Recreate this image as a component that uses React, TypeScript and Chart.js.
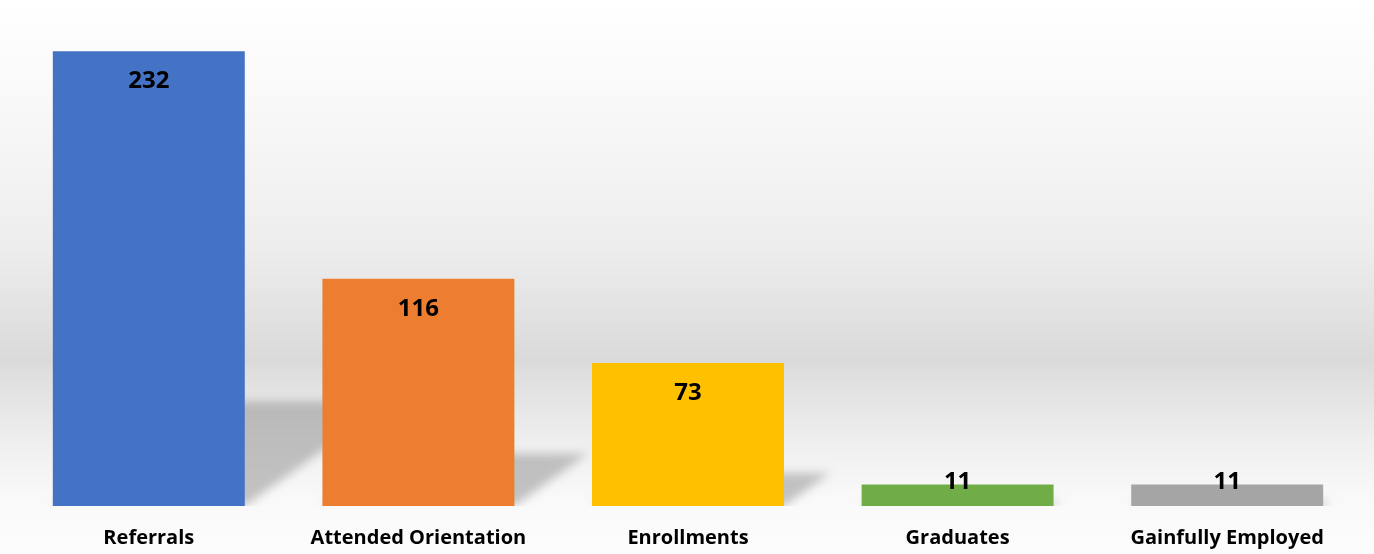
import React, { useEffect, useRef } from "react";
import { Chart, registerables } from "chart.js";

Chart.register(...registerables);

const categories = ["Referrals", "Attended Orientation", "Enrollments", "Graduates", "Gainfully Employed"];
const values = [232, 116, 73, 11, 11];
const barColors = ["#4472C4", "#ED7D31", "#FFC000", "#70AD47", "#A5A5A5"];
const yMax = 250;

const backgroundPlugin = {
  id: "bgGradient",
  beforeDraw(chart: any) {
    const { ctx, width, height } = chart;
    const g = ctx.createLinearGradient(0, 0, 0, height);
    g.addColorStop(0, "#ffffff");
    g.addColorStop(0.2, "#f8f8f8");
    g.addColorStop(0.45, "#ededed");
    g.addColorStop(0.65, "#dadada");
    g.addColorStop(0.67, "#dedede");
    g.addColorStop(0.8, "#efefef");
    g.addColorStop(0.9, "#f9f9f9");
    g.addColorStop(1, "#fcfcfc");
    ctx.save();
    ctx.fillStyle = g;
    ctx.fillRect(0, 0, width, height);
    ctx.restore();
  },
};

const shadowPlugin = {
  id: "barShadows",
  beforeDatasetsDraw(chart: any) {
    const meta = chart.getDatasetMeta(0);
    const ctx = chart.ctx;
    const area = chart.chartArea;
    ctx.save();
    ctx.beginPath();
    ctx.rect(0, 0, chart.width, area.bottom);
    ctx.clip();
    ctx.filter = "blur(5px)";
    ctx.fillStyle = "rgba(140,140,140,0.5)";
    meta.data.forEach((bar: any) => {
      const { x, y, base, width } = bar.getProps(["x", "y", "base", "width"], true);
      const h = base - y;
      const sh = h * 0.23;
      const dx = sh * 1.4;
      const left = x - width / 2;
      const right = x + width / 2;
      ctx.beginPath();
      ctx.moveTo(left, base);
      ctx.lineTo(right, base);
      ctx.lineTo(right + dx, base - sh);
      ctx.lineTo(left + dx, base - sh);
      ctx.closePath();
      ctx.fill();
    });
    ctx.restore();
  },
};

const labelPlugin = {
  id: "valueLabels",
  afterDatasetsDraw(chart: any) {
    const meta = chart.getDatasetMeta(0);
    const ctx = chart.ctx;
    ctx.save();
    ctx.font = "bold 24px 'Open Sans'";
    ctx.fillStyle = "#000000";
    ctx.textAlign = "center";
    ctx.textBaseline = "alphabetic";
    meta.data.forEach((bar: any, i: number) => {
      const { x, y, base } = bar.getProps(["x", "y", "base"], true);
      const h = base - y;
      const by = h > 60 ? y + 37 : base - 17;
      ctx.fillText(String(values[i]), x, by);
    });
    ctx.restore();
  },
};

export default function App() {
  const ref = useRef<HTMLCanvasElement>(null);
  useEffect(() => {
    if (!ref.current) return;
    const chart = new Chart(ref.current, {
      type: "bar",
      data: {
        labels: categories,
        datasets: [
          {
            data: values,
            backgroundColor: barColors,
            borderWidth: 0,
            categoryPercentage: 1,
            barPercentage: 0.712,
          },
        ],
      },
      options: {
        responsive: false,
        animation: false,
        layout: { padding: { left: 14, right: 12, top: 16, bottom: 0 } },
        plugins: {
          legend: { display: false },
          tooltip: { enabled: false },
        },
        scales: {
          x: {
            grid: { display: false, drawTicks: false },
            border: { display: false },
            afterFit(scale: any) {
              scale.height = 48;
            },
            ticks: {
              padding: 20,
              color: "#000000",
              font: { family: "'Open Sans'", weight: "bold", size: 20 },
              maxRotation: 0,
              autoSkip: false,
            },
          },
          y: {
            display: false,
            min: 0,
            max: yMax,
          },
        },
      },
      plugins: [backgroundPlugin, shadowPlugin, labelPlugin],
    });
    return () => chart.destroy();
  }, []);
  return (
    <div style={{ position: "absolute", left: 0, top: 0, width: 1374, height: 554 }}>
      <canvas ref={ref} width={1374} height={554} />
    </div>
  );
}
